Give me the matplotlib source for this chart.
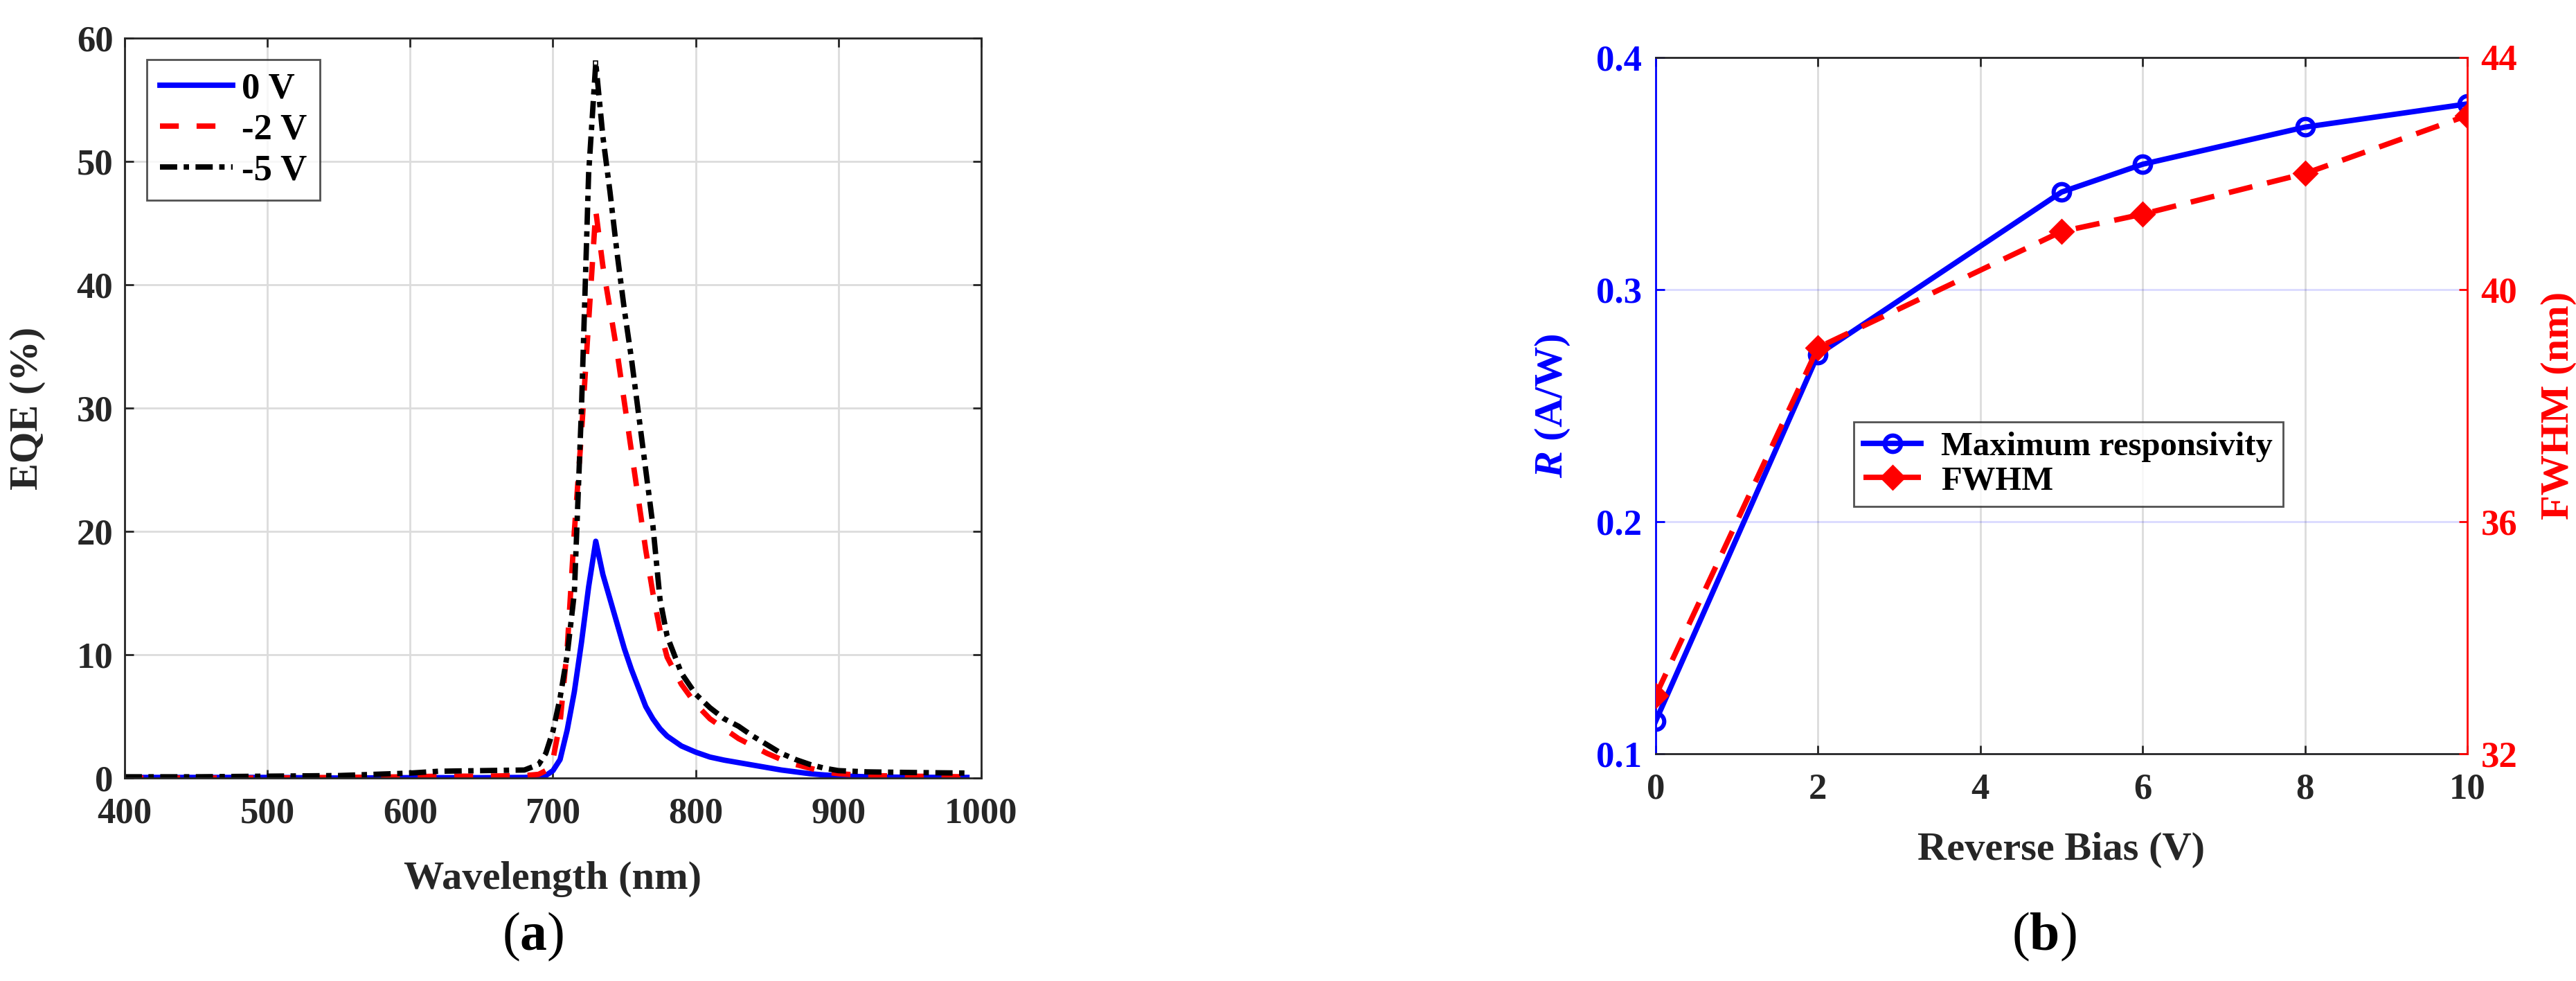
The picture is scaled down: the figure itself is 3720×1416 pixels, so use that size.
import matplotlib
matplotlib.use("Agg")
import matplotlib.pyplot as plt

plt.rcParams['font.family'] = ['Liberation Serif', 'DejaVu Serif']
plt.rcParams['font.weight'] = 'bold'
plt.rcParams['axes.labelweight'] = 'bold'
plt.rcParams['mathtext.fontset'] = 'custom'
plt.rcParams['mathtext.rm'] = 'Liberation Serif:bold'
plt.rcParams['mathtext.bf'] = 'Liberation Serif:bold'
plt.rcParams['mathtext.it'] = 'Liberation Serif:italic:bold'

# (a) EQE spectra
wl = [400, 450, 500, 550, 600, 620, 650, 680, 690, 695, 700, 705, 710, 715, 720,
      725, 730, 735, 740, 745, 750, 755, 760, 765, 770, 775, 780, 790, 800, 810,
      820, 830, 840, 850, 860, 870, 880, 890, 900, 920, 950, 990]
eqe_0v = [0.05, 0.05, 0.05, 0.0, 0.03, 0.03, 0.03, 0.05, 0.1, 0.2, 0.6, 1.5, 3.9, 7.0, 11.0,
          15.5, 19.2, 16.5, 14.5, 12.5, 10.5, 8.8, 7.3, 5.8, 4.8, 4.0, 3.4, 2.6, 2.1, 1.7,
          1.45, 1.25, 1.05, 0.85, 0.65, 0.5, 0.35, 0.25, 0.18, 0.1, 0.06, 0.05]
eqe_2v = [0.0, 0.0, 0.0, 0.05, 0.1, 0.15, 0.15, 0.2, 0.3, 0.6, 1.5, 4.5, 10.5, 20.0, 28.0,
          37.0, 46.0, 41.5, 38.0, 34.5, 30.5, 26.5, 22.5, 18.5, 15.0, 12.0, 9.8, 7.6, 6.0, 4.8,
          4.0, 3.2, 2.6, 2.0, 1.5, 1.1, 0.8, 0.5, 0.35, 0.2, 0.15, 0.1]
eqe_5v = [0.1, 0.1, 0.15, 0.2, 0.4, 0.55, 0.6, 0.65, 1.1, 2.0, 3.8, 6.5, 10.0, 15.0, 30.0,
          49.0, 58.0, 52.0, 47.5, 42.5, 38.0, 34.0, 29.5, 25.0, 20.5, 14.5, 11.5, 8.5, 6.8, 5.7,
          4.8, 4.2, 3.4, 2.7, 2.0, 1.5, 1.1, 0.8, 0.6, 0.5, 0.45, 0.4]
series_labels = ['0 V', '-2 V', '-5 V']

# (b) responsivity and FWHM vs bias
bias = [0, 2, 5, 6, 8, 10]
resp = [0.114, 0.272, 0.342, 0.354, 0.370, 0.380]
fwhm = [33.0, 39.0, 41.0, 41.3, 42.0, 43.0]

dark = '#262626'
tick_fs = 19
label_fs = 21

fig = plt.figure(figsize=(18.6, 7.08), dpi=200)

# ---- panel (a)
ax = fig.add_axes([0.0484, 0.2069, 0.3325, 0.7543])
ax.plot(wl, eqe_0v, color='blue', lw=2.8, label=series_labels[0])
ax.plot(wl, eqe_2v, color='red', lw=2.8, dashes=(3.5, 3.3), label=series_labels[1])
ax.plot(wl, eqe_5v, color='black', lw=2.8, dashes=(3.2, 1.2, 1.0, 1.2), label=series_labels[2])
ax.plot([wl[eqe_5v.index(max(eqe_5v))]], [max(eqe_5v)], 's', ms=2.5, mfc='white', mec='black', mew=0.6)
ax.set_xlim(400, 1000)
ax.set_ylim(0, 60)
ax.set_xticks(range(400, 1001, 100))
ax.set_yticks(range(0, 61, 10))
ax.grid(True, color='#dcdcdc', lw=1.0)
ax.set_axisbelow(True)
ax.tick_params(direction='in', length=4.5, width=1.0, top=True, right=True,
               labelsize=tick_fs, colors=dark)
ax.tick_params(axis='x', pad=10)
ax.tick_params(axis='y', pad=6)
for s in ax.spines.values():
    s.set_color(dark)
    s.set_linewidth(1.0)
ax.set_xlabel('Wavelength (nm)', fontsize=label_fs, color=dark)
ax.set_ylabel('EQE (%)', fontsize=label_fs, color=dark)
ax.yaxis.set_label_coords(-0.092, 0.5)
ax.xaxis.set_label_coords(0.5, -0.112)
leg = ax.legend(loc='upper left', bbox_to_anchor=(0.026, 0.9705),
                fontsize=tick_fs, frameon=True, fancybox=False, edgecolor=dark, borderaxespad=0,
                handlelength=2.0, handletextpad=0.25, labelspacing=0.2, borderpad=0.35)
leg.get_frame().set_linewidth(1.0)

# ---- panel (b)
axl = fig.add_axes([0.6427, 0.2316, 0.3151, 0.7098])
axr = axl.twinx()
l1, = axl.plot(bias, resp, color='blue', lw=2.8, marker='o', ms=8.5, mfc='none', mew=2.2,
               label='Maximum responsivity')
l2, = axr.plot(bias, fwhm, color='red', lw=2.8, dashes=(4.5, 2.8), marker='D', ms=8.5,
               mfc='red', mec='red', label='FWHM')
axl.set_xlim(0, 10)
axl.set_ylim(0.1, 0.4)
axr.set_ylim(32, 44)
axl.set_xticks(range(0, 11, 2))
axl.set_yticks([0.1, 0.2, 0.3, 0.4])
axr.set_yticks([32, 36, 40, 44])
axl.xaxis.grid(True, color='#dcdcdc', lw=1.0)
axl.yaxis.grid(True, color='blue', alpha=0.15, lw=1.0)
axl.set_axisbelow(True)
axl.tick_params(axis='x', direction='in', length=4.5, width=1.0, top=True,
                labelsize=tick_fs, colors=dark, pad=10)
axl.tick_params(axis='y', direction='in', length=4.5, width=1.0,
                labelsize=tick_fs, colors='blue', pad=7)
axr.tick_params(axis='y', direction='in', length=4.5, width=1.0,
                labelsize=tick_fs, colors='red', pad=7)
for name in ['top', 'bottom']:
    axl.spines[name].set_color(dark)
    axl.spines[name].set_linewidth(1.0)
axl.spines['left'].set_color('blue')
axl.spines['left'].set_linewidth(1.0)
axl.spines['right'].set_visible(False)
for name in ['top', 'bottom', 'left']:
    axr.spines[name].set_visible(False)
axr.spines['right'].set_color('red')
axr.spines['right'].set_linewidth(1.0)
axl.set_xlabel('Reverse Bias (V)', fontsize=label_fs, color=dark)
axl.set_ylabel(r'$R$ (A/W)', fontsize=label_fs, color='blue')
axr.set_ylabel('FWHM (nm)', fontsize=label_fs, color='red', rotation=90)
axl.yaxis.set_label_coords(-0.103, 0.5)
axr.yaxis.set_label_coords(1.09, 0.5)
axl.xaxis.set_label_coords(0.5, -0.112)
leg2 = axr.legend(handles=[l1, l2], loc='upper left', bbox_to_anchor=(0.244, 0.477),
                  fontsize=17.5, frameon=True, fancybox=False,
                  edgecolor=dark, borderaxespad=0, handlelength=1.7, handletextpad=0.6,
                  labelspacing=0.1, borderpad=0.3)
leg2.get_frame().set_linewidth(1.0)

fig.text(0.207, 0.045, r'($\mathbf{a}$)', fontsize=28, fontweight='normal',
         ha='center', va='center', color='black')
fig.text(0.7935, 0.045, r'($\mathbf{b}$)', fontsize=28, fontweight='normal',
         ha='center', va='center', color='black')

fig.savefig('out.png', dpi=200, facecolor='white')
